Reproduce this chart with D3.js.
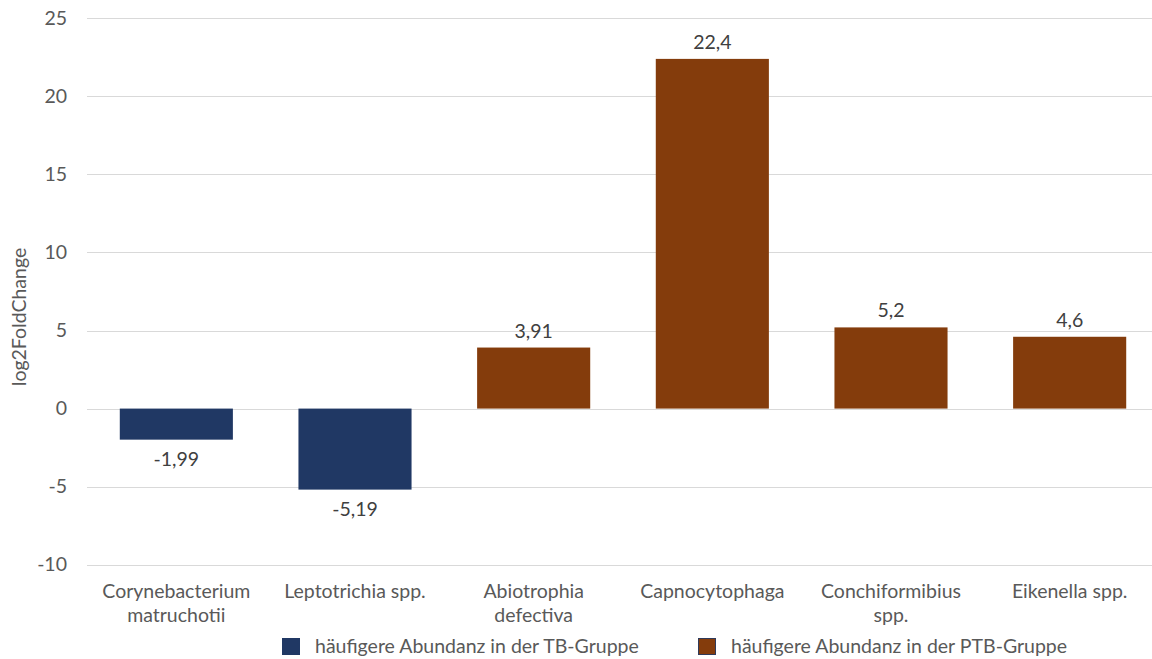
<!DOCTYPE html>
<html>
<head>
<meta charset="utf-8">
<script src="https://cdn.jsdelivr.net/npm/d3@7"></script>
<style>
  html, body { margin: 0; padding: 0; background: #fff; }
  svg { display: block; font-family: Lato, "Open Sans", sans-serif; }
</style>
</head>
<body>
<svg id="chart" width="1152" height="659"></svg>
<script>
// Taxa and their log2 fold changes
const categories = [
  ["Corynebacterium", "matruchotii"],
  ["Leptotrichia spp."],
  ["Abiotrophia", "defectiva"],
  ["Capnocytophaga"],
  ["Conchiformibius", "spp."],
  ["Eikenella spp."]
];
const values = [-1.99, -5.19, 3.91, 22.4, 5.2, 4.6];
const valueLabels = ["-1,99", "-5,19", "3,91", "22,4", "5,2", "4,6"];
const groups = ["TB", "TB", "PTB", "PTB", "PTB", "PTB"];
const yTicks = [-10, -5, 0, 5, 10, 15, 20, 25];
const legendLabels = [
  { key: "TB", text: "häufigere Abundanz in der TB-Gruppe" },
  { key: "PTB", text: "häufigere Abundanz in der PTB-Gruppe" }
];

const colors = { TB: "#203864", PTB: "#843C0C" };
const textGrey = "#595959";
const fontSize = "19.5px";

const svg = d3.select("#chart");
const plot = { left: 87, right: 1159, top: 18.3, bottom: 564.7 };

const x = d3.scaleBand()
  .domain(d3.range(categories.length))
  .range([plot.left, plot.right])
  .paddingInner(0.367)
  .paddingOuter(0.1835);

const y = d3.scaleLinear()
  .domain([-10, 25])
  .range([plot.bottom, plot.top]);

// Horizontal gridlines
svg.append("g")
  .selectAll("line")
  .data(yTicks)
  .join("line")
  .attr("x1", plot.left)
  .attr("x2", plot.right)
  .attr("y1", d => Math.round(y(d)) + 0.5)
  .attr("y2", d => Math.round(y(d)) + 0.5)
  .attr("stroke", "#d9d9d9")
  .attr("stroke-width", 1);

// Y axis tick labels (plain hyphen for negatives)
const yAxis = d3.axisLeft(y)
  .tickValues(yTicks)
  .tickFormat(d => String(d))
  .tickSize(0)
  .tickPadding(20);
const yG = svg.append("g")
  .attr("transform", `translate(${plot.left},0)`)
  .call(yAxis);
yG.select(".domain").remove();
yG.selectAll("text")
  .attr("fill", textGrey)
  .style("font-size", fontSize)
  .style("font-family", "Lato, sans-serif");

// Y axis title
svg.append("text")
  .attr("transform", "translate(26,317) rotate(-90)")
  .attr("text-anchor", "middle")
  .attr("fill", textGrey)
  .style("font-size", fontSize)
  .text("log2FoldChange");

// Bars
svg.append("g")
  .selectAll("rect")
  .data(values)
  .join("rect")
  .attr("x", (d, i) => x(i))
  .attr("width", x.bandwidth())
  .attr("y", d => y(Math.max(0, d)))
  .attr("height", d => Math.abs(y(d) - y(0)))
  .attr("fill", (d, i) => colors[groups[i]]);

// Value labels
svg.append("g")
  .selectAll("text")
  .data(values)
  .join("text")
  .attr("x", (d, i) => x(i) + x.bandwidth() / 2)
  .attr("y", d => d >= 0 ? y(d) - 10 : y(d) + 26)
  .attr("text-anchor", "middle")
  .attr("fill", "#404040")
  .style("font-size", fontSize)
  .text((d, i) => valueLabels[i]);

// Category labels
const catG = svg.append("g")
  .selectAll("text")
  .data(categories)
  .join("text")
  .attr("x", (d, i) => x(i) + x.bandwidth() / 2)
  .attr("y", 598)
  .attr("text-anchor", "middle")
  .attr("fill", textGrey)
  .style("font-size", fontSize);
catG.selectAll("tspan")
  .data(d => d)
  .join("tspan")
  .attr("x", function () { return this.parentNode.getAttribute("x"); })
  .attr("dy", (d, j) => j === 0 ? 0 : 24)
  .text(d => d);

// Legend
const legendX = [282, 698];
const leg = svg.append("g")
  .selectAll("g")
  .data(legendLabels)
  .join("g")
  .attr("transform", (d, i) => `translate(${legendX[i]},638)`);
leg.append("rect")
  .attr("x", 0.5)
  .attr("y", 0.5)
  .attr("width", 17)
  .attr("height", 16)
  .attr("fill", d => colors[d.key])
  .attr("stroke", d => d.key === "PTB" ? "#2f3a5a" : colors[d.key])
  .attr("stroke-width", 1);
leg.append("text")
  .attr("x", 33)
  .attr("y", 15)
  .attr("fill", textGrey)
  .style("font-size", fontSize)
  .text(d => d.text);
</script>
</body>
</html>
